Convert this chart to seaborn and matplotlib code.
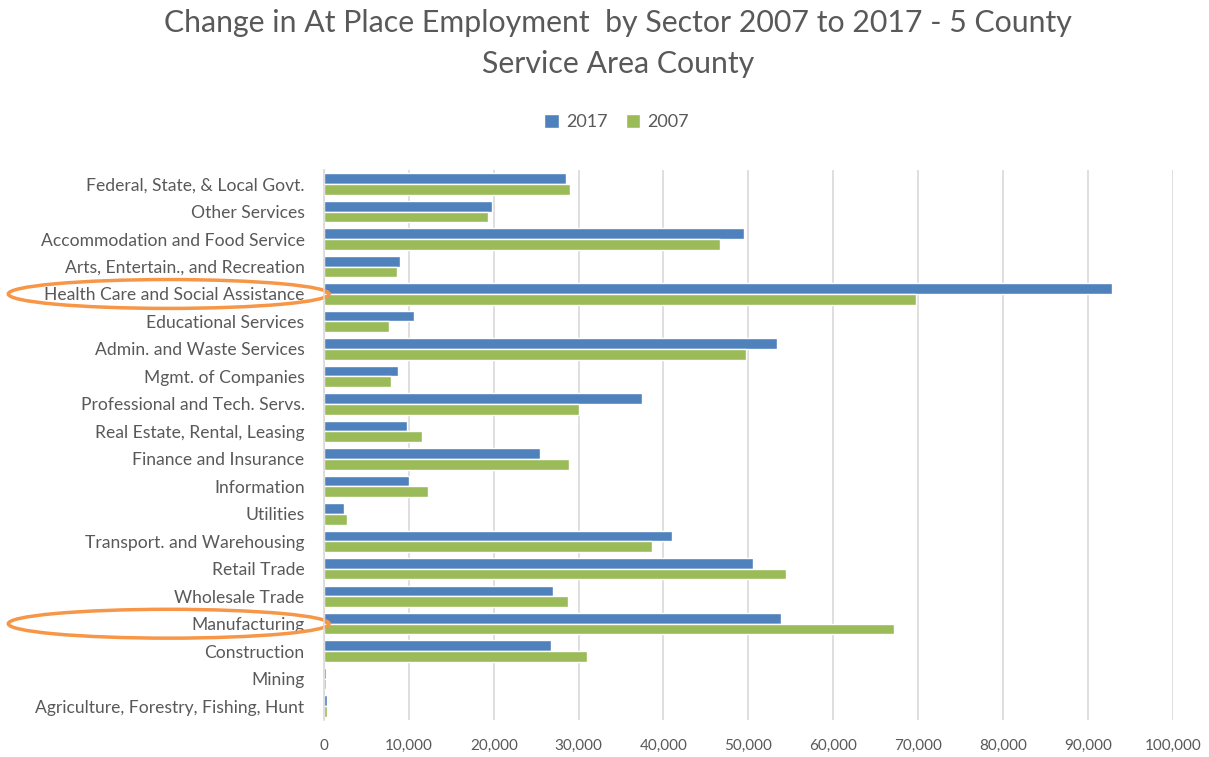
import pandas as pd
import matplotlib.pyplot as plt
import matplotlib.transforms as mtransforms
from matplotlib.patches import Ellipse
from matplotlib.ticker import FuncFormatter
import seaborn as sns

sectors = [
    'Federal, State, & Local Govt.',
    'Other Services',
    'Accommodation and Food Service',
    'Arts, Entertain., and Recreation',
    'Health Care and Social Assistance',
    'Educational Services',
    'Admin. and Waste Services',
    'Mgmt. of Companies',
    'Professional and Tech. Servs.',
    'Real Estate, Rental, Leasing',
    'Finance and Insurance',
    'Information',
    'Utilities',
    'Transport. and Warehousing',
    'Retail Trade',
    'Wholesale Trade',
    'Manufacturing',
    'Construction',
    'Mining',
    'Agriculture, Forestry, Fishing, Hunt',
]
emp_2017 = [28500, 19800, 49500, 8900, 92900, 10600, 53400, 8750, 37500, 9800,
            25400, 10000, 2300, 41000, 50500, 27000, 53900, 26800, 250, 400]
emp_2007 = [29000, 19300, 46700, 8600, 69800, 7700, 49700, 7900, 30100, 11500,
            28900, 12200, 2650, 38600, 54400, 28700, 67200, 31000, 250, 400]
highlighted = ['Health Care and Social Assistance', 'Manufacturing']

df = pd.concat([
    pd.DataFrame({'Sector': sectors, 'Jobs': emp_2017, 'Year': '2017'}),
    pd.DataFrame({'Sector': sectors, 'Jobs': emp_2007, 'Year': '2007'}),
])

sns.set_style('white')
plt.rcParams['font.family'] = ['Lato', 'DejaVu Sans']
grey = '#595959'

fig = plt.figure(figsize=(12.09, 7.57), dpi=100)
ax = fig.add_axes([0.268, 0.049, 0.702, 0.726])

sns.barplot(data=df, y='Sector', x='Jobs', hue='Year', orient='h',
            palette={'2017': '#4F81BD', '2007': '#9BBB59'},
            width=0.78, gap=0.0, saturation=1, ax=ax, legend=True)

ax.set_xlim(0, 100000)
ax.set_ylim(len(sectors) - 0.5, -0.5)
ax.set_xticks(range(0, 100001, 10000))
ax.xaxis.set_major_formatter(FuncFormatter(lambda v, p: f'{int(v):,}'))
ax.grid(axis='x', color='#d9d9d9', linewidth=1.2)
ax.set_axisbelow(True)
for s in ['top', 'right', 'bottom']:
    ax.spines[s].set_visible(False)
ax.spines['left'].set_color('#d9d9d9')
ax.spines['left'].set_linewidth(1.2)
ax.tick_params(axis='both', length=0, colors=grey)
ax.tick_params(axis='y', labelsize=12.6, pad=14)
ax.tick_params(axis='x', labelsize=11, pad=14)
ax.set_xlabel('')
ax.set_ylabel('')

leg = ax.legend(loc='center', bbox_to_anchor=(0.51, 0.839), bbox_transform=fig.transFigure,
                ncol=2, frameon=False, fontsize=13, handlelength=0.8, handleheight=0.8,
                columnspacing=1.0, handletextpad=0.4)
for t in leg.get_texts():
    t.set_color(grey)

fig.text(0.511, 0.97, 'Change in At Place Employment  by Sector 2007 to 2017 - 5 County',
         ha='center', va='center', fontsize=21.8, color=grey)
fig.text(0.511, 0.915, 'Service Area County', ha='center', va='center',
         fontsize=21.8, color=grey)

# orange rings round the two highlighted sectors
trans = mtransforms.blended_transform_factory(ax.transAxes, ax.transData)
for name in highlighted:
    i = sectors.index(name)
    ax.add_patch(Ellipse((-0.183, i), 0.378, 1.05, transform=trans, fill=False,
                         edgecolor='#F79646', linewidth=2.5, clip_on=False))

fig.savefig('out.png', dpi=100)
